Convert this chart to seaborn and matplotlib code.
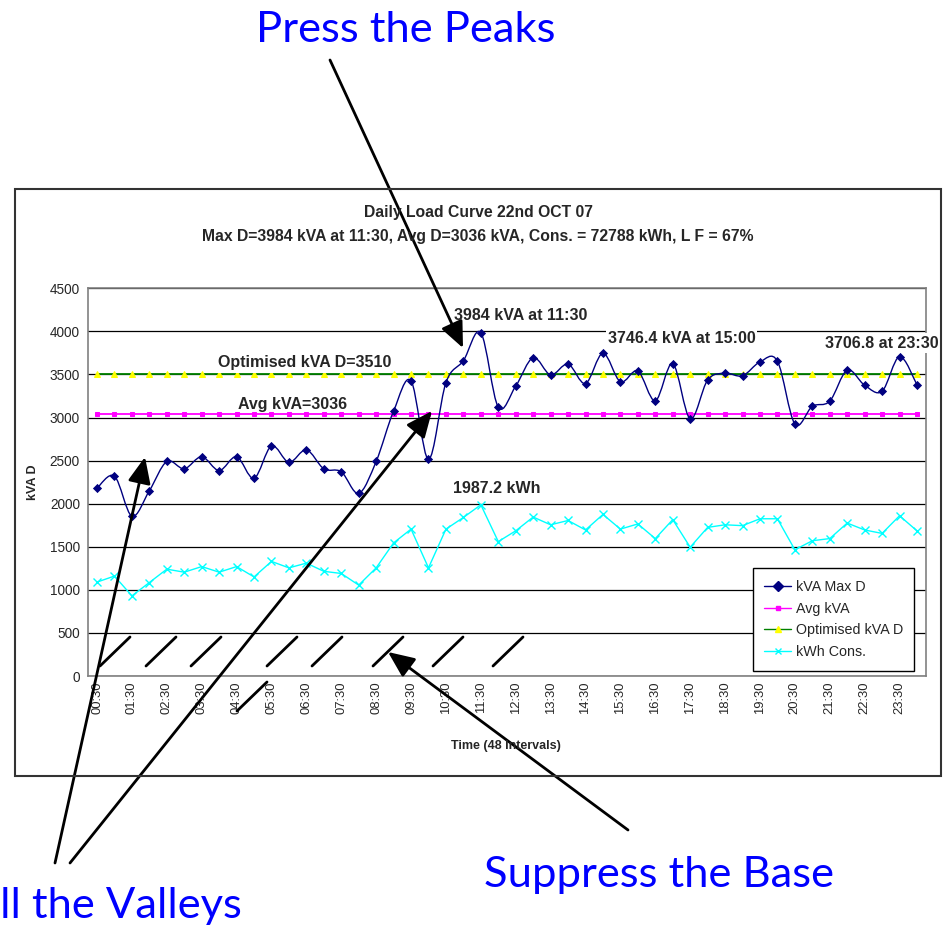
import numpy as np
import pandas as pd
import matplotlib
matplotlib.use('Agg')
import matplotlib.pyplot as plt
import seaborn as sns
from matplotlib.path import Path
from matplotlib.patches import PathPatch, Rectangle
from matplotlib.lines import Line2D

# half-hour slots of the day
times = ['00:30', '01:00', '01:30', '02:00', '02:30', '03:00', '03:30', '04:00',
         '04:30', '05:00', '05:30', '06:00', '06:30', '07:00', '07:30', '08:00',
         '08:30', '09:00', '09:30', '10:00', '10:30', '11:00', '11:30', '12:00',
         '12:30', '13:00', '13:30', '14:00', '14:30', '15:00', '15:30', '16:00',
         '16:30', '17:00', '17:30', '18:00', '18:30', '19:00', '19:30', '20:00',
         '20:30', '21:00', '21:30', '22:00', '22:30', '23:00', '23:30', '24:00']

kva_max = [2180, 2320, 1855, 2150, 2490, 2405, 2545, 2385, 2545, 2295, 2670, 2480,
           2625, 2405, 2370, 2120, 2490, 3075, 3425, 2515, 3405, 3660, 3984, 3120,
           3365, 3695, 3495, 3620, 3395, 3746.4, 3415, 3540, 3195, 3625, 2985, 3435,
           3515, 3485, 3645, 3655, 2925, 3130, 3190, 3550, 3375, 3305, 3706.8, 3380]

kwh_cons = [1090, 1160, 930, 1085, 1240, 1205, 1270, 1205, 1270, 1150, 1330, 1255,
            1310, 1215, 1190, 1055, 1255, 1545, 1705, 1255, 1705, 1840, 1987.2, 1560,
            1685, 1845, 1755, 1805, 1695, 1875, 1705, 1765, 1595, 1815, 1495, 1725,
            1755, 1745, 1825, 1825, 1465, 1570, 1595, 1775, 1695, 1655, 1860, 1685]

avg_kva = [3036] * 48
opt_kva = [3510] * 48

df = pd.DataFrame({'slot': range(48), 'time': times, 'kva': kva_max,
                   'kwh': kwh_cons, 'avg': avg_kva, 'opt': opt_kva})

sns.set_style('white')
plt.rcParams['font.family'] = ['Liberation Sans', 'DejaVu Sans']

W, H = 950, 926
fig = plt.figure(figsize=(9.5, 9.26), dpi=100)


# pixel (from top left) -> figure fraction
def fx(x):
    return x / W


def fy(y):
    return 1 - y / H


ax = fig.add_axes([fx(88.3), fy(676), fx(925.7) - fx(88.3), fy(288.3) - fy(676)])

# horizontal reference lines and kWh series
sns.lineplot(data=df, x='slot', y='avg', color='#FF00FF', lw=1.3, marker='s',
             markersize=3, markeredgecolor='#FF00FF', ax=ax, zorder=3)
sns.lineplot(data=df, x='slot', y='opt', color='#008000', lw=1.3, marker='^',
             markersize=4, markerfacecolor='yellow', markeredgecolor='yellow', ax=ax, zorder=3)
sns.lineplot(data=df, x='slot', y='kwh', color='#00FFFF', lw=1, marker='x',
             markersize=6, markeredgecolor='#00FFFF', markeredgewidth=1, ax=ax, zorder=3)

# smoothed kVA curve (bezier through the points, like the spreadsheet)
pts = np.column_stack([df['slot'], df['kva']]).astype(float)
verts = [pts[0]]
codes = [Path.MOVETO]
for i in range(len(pts) - 1):
    p0 = pts[i - 1] if i > 0 else pts[i]
    p1, p2 = pts[i], pts[i + 1]
    p3 = pts[i + 2] if i + 2 < len(pts) else pts[i + 1]
    verts += [p1 + (p2 - p0) / 6, p2 - (p3 - p1) / 6, p2]
    codes += [Path.CURVE4] * 3
ax.add_patch(PathPatch(Path(verts, codes), fill=False, edgecolor='#000080', lw=1, zorder=4))
sns.scatterplot(data=df, x='slot', y='kva', marker='D', s=22, color='#000080',
                edgecolor='#000080', linewidth=0, ax=ax, zorder=5)

ax.set_xlim(-0.5, 47.5)
ax.set_ylim(0, 4500)
ax.set_yticks(range(0, 4501, 500))
ax.set_xticks(np.arange(-0.5, 48, 1))
ax.set_xticklabels([])
ax.set_xticks(np.arange(0, 48, 2), minor=True)
ax.set_xticklabels(times[::2], minor=True, rotation=90, fontsize=9.4)
ax.tick_params(axis='x', which='major', length=4, color='#808080', direction='out')
ax.tick_params(axis='x', which='minor', length=0, pad=4)
ax.tick_params(axis='y', length=4, color='#808080', direction='out', labelsize=9.8, pad=2)
ax.yaxis.grid(True, color='black', lw=0.9)
ax.xaxis.grid(False)
ax.set_axisbelow(True)
for s in ax.spines.values():
    s.set_color('#808080')
    s.set_linewidth(1.2)
ax.set_xlabel('')
ax.set_ylabel('')

# point labels
box = dict(facecolor='white', edgecolor='none', pad=1.5)
lab = dict(fontsize=11.5, fontweight='bold', ha='center', va='center', zorder=6)
ax.text(11.9, 3633, 'Optimised kVA D=3510', bbox=box, **lab)
ax.text(11.2, 3146, 'Avg kVA=3036', **lab)
ax.text(24.3, 4179, '3984 kVA at 11:30', bbox=box, **lab)
ax.text(33.5, 3923, '3746.4 kVA at 15:00', bbox=box, **lab)
ax.text(45.0, 3865, '3706.8 at 23:30', bbox=box, **lab)
ax.text(22.9, 2182, '1987.2 kWh', bbox=box, **lab)

handles = [
    Line2D([], [], color='#000080', marker='D', markersize=5, lw=1),
    Line2D([], [], color='#FF00FF', marker='s', markersize=3, lw=1),
    Line2D([], [], color='#008000', marker='^', markersize=4, markerfacecolor='yellow',
           markeredgecolor='yellow', lw=1),
    Line2D([], [], color='#00FFFF', marker='x', markersize=5, lw=1),
]
leg = fig.legend(handles, ['kVA Max D', 'Avg kVA', 'Optimised kVA D', 'kWh Cons.'],
                 loc='upper left', bbox_to_anchor=(fx(752.7), fy(568.3)), fontsize=10.3,
                 frameon=True, fancybox=False, edgecolor='black', framealpha=1,
                 borderaxespad=0, labelspacing=0.55, handlelength=1.9, handletextpad=0.3,
                 borderpad=0.8)
leg.get_frame().set_linewidth(1)

# titles and axis labels
fig.text(fx(478), fy(213), 'Daily Load Curve 22nd OCT 07', fontsize=11.3,
         fontweight='bold', ha='center', va='center')
fig.text(fx(478), fy(237),
         'Max D=3984 kVA at 11:30, Avg D=3036 kVA, Cons. = 72788 kWh, L F = 67%',
         fontsize=11.3, fontweight='bold', ha='center', va='center')
fig.text(fx(33), fy(482), 'kVA D', fontsize=9, fontweight='bold', rotation=90,
         ha='center', va='center')
fig.text(fx(506), fy(746), 'Time (48 Intervals)', fontsize=9, fontweight='bold',
         ha='center', va='center')

# chart border
fig.add_artist(Rectangle((fx(14.7), fy(775.7)), fx(940.7) - fx(14.7), fy(189) - fy(775.7),
                         transform=fig.transFigure, fill=False, edgecolor='#333333', lw=1.5))

# big blue captions ("Fill" runs off the left edge, as in the original slide)
big = dict(color='#0000FF', fontsize=31.3, family=['Lato', 'DejaVu Sans'])
fig.text(fx(405.5), fy(42), 'Press the Peaks', ha='center', va='baseline', **big)
fig.text(fx(659), fy(887), 'Suppress the Base', ha='center', va='baseline', **big)
fig.text(fx(242), fy(918), 'Fill the Valleys', ha='right', va='baseline', **big)

# short diagonal strokes near the base
strokes = [(100, 666, 130, 637), (146, 666, 176, 637), (191, 666, 221, 637),
           (237, 711, 267, 682), (267, 666, 297, 637), (312, 666, 342, 637),
           (373, 666, 403, 637), (433, 666, 463, 637), (493, 666, 523, 637)]
for x1, y1, x2, y2 in strokes:
    fig.add_artist(Line2D([fx(x1), fx(x2)], [fy(y1), fy(y2)], transform=fig.transFigure,
                          color='black', lw=2, zorder=8))

# arrows
arrows = [((330, 60), (463, 348)), ((55, 863), (145, 457)),
          ((70, 863), (432, 411)), ((628, 830), (388, 652))]
for (x0, y0), (x1, y1) in arrows:
    ax.annotate('', xy=(fx(x1), fy(y1)), xytext=(fx(x0), fy(y0)),
                xycoords='figure fraction', textcoords='figure fraction',
                annotation_clip=False, zorder=10,
                arrowprops=dict(arrowstyle='-|>,head_length=0.8,head_width=0.35',
                                mutation_scale=20, color='black', lw=2,
                                shrinkA=0, shrinkB=0))

plt.savefig('out.png', dpi=100)
